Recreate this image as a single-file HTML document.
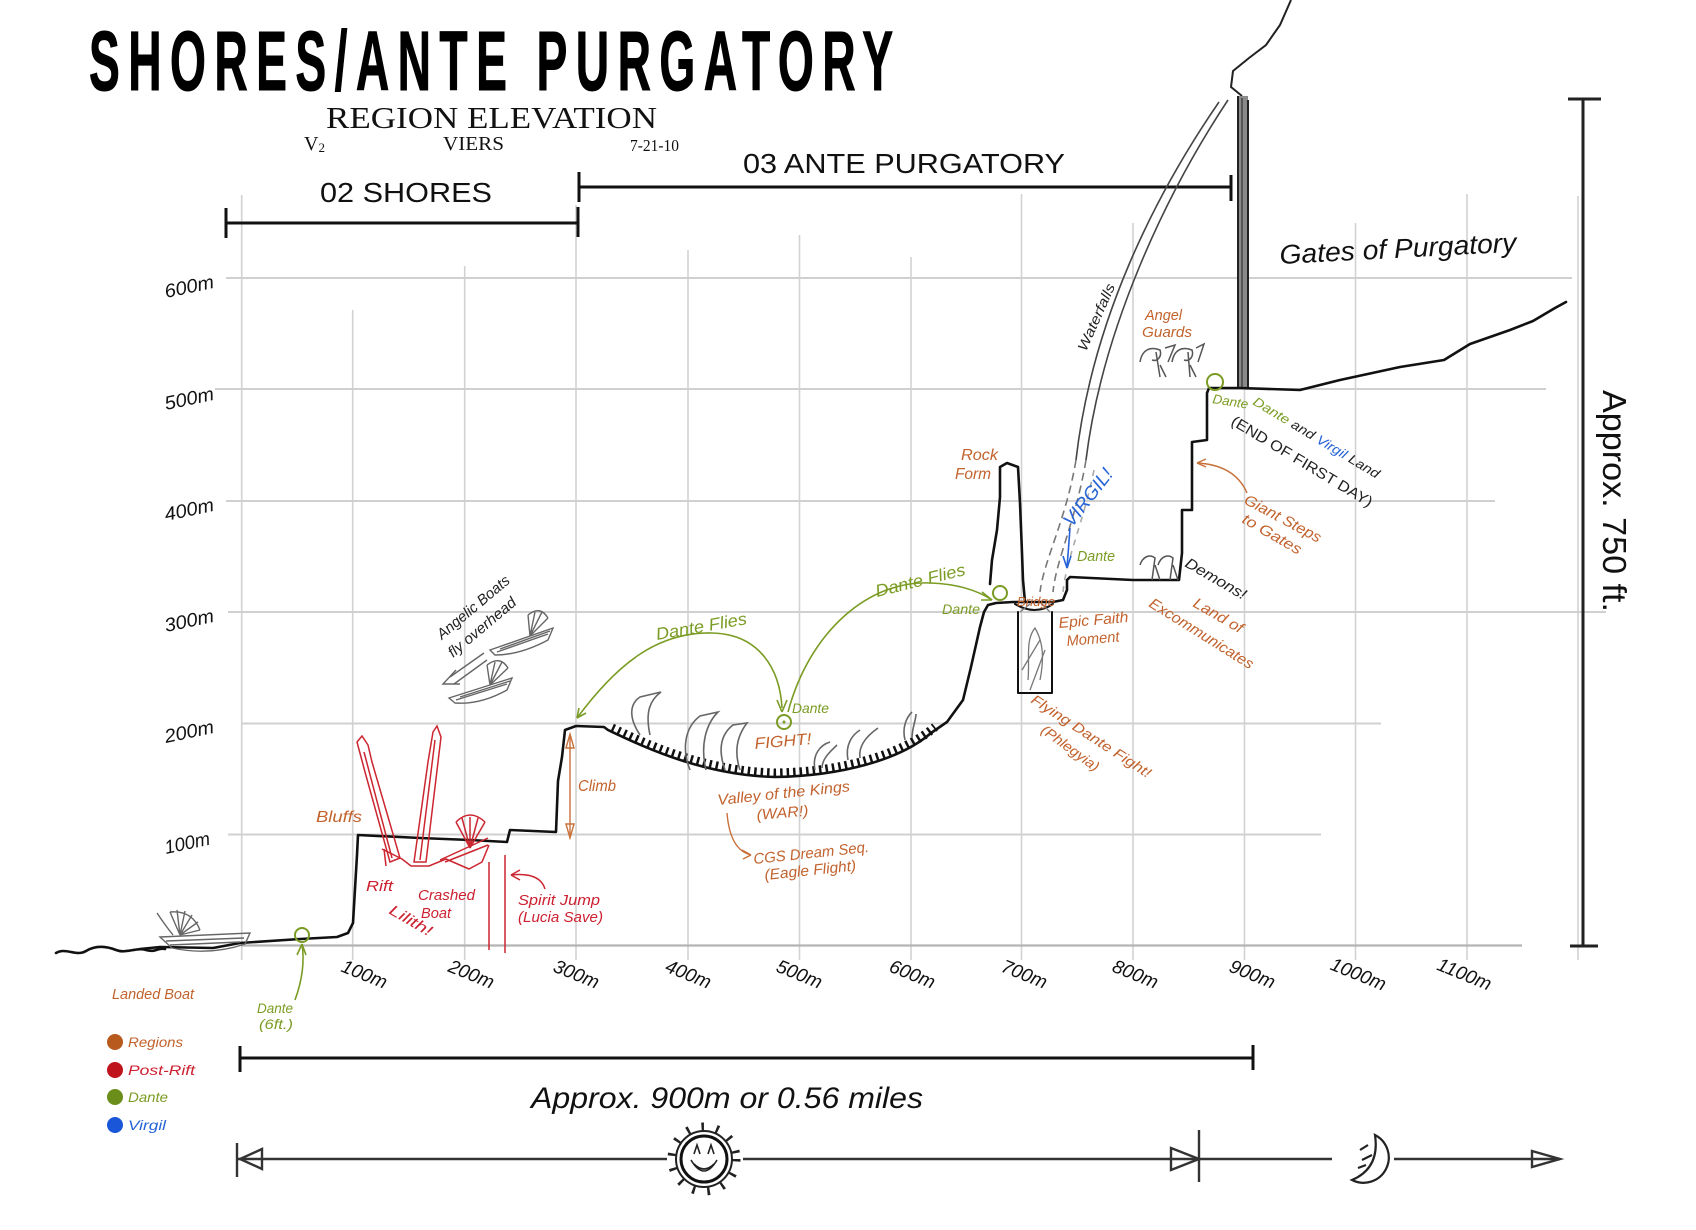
<!DOCTYPE html>
<html><head><meta charset="utf-8">
<style>
html,body{margin:0;padding:0;background:#fff;}
svg{display:block;}
.hw{font-family:"Liberation Sans","DejaVu Sans",sans-serif;font-style:italic;}
.up{font-style:normal;}
</style></head>
<body>
<svg width="1696" height="1230" viewBox="0 0 1696 1230" xmlns="http://www.w3.org/2000/svg">
<rect width="1696" height="1230" fill="#fff"/>

<!-- vertical grid -->
<g stroke="#d2d2d2" stroke-width="1.6" fill="none">
<line x1="241.7" y1="195" x2="241.7" y2="960"/>
<line x1="352.7" y1="310" x2="352.7" y2="960"/>
<line x1="464.7" y1="266" x2="464.7" y2="960"/>
<line x1="576" y1="205" x2="576" y2="960"/>
<line x1="688" y1="250" x2="688" y2="960"/>
<line x1="799.5" y1="235" x2="799.5" y2="960"/>
<line x1="911" y1="257" x2="911" y2="960"/>
<line x1="1021.5" y1="194" x2="1021.5" y2="960"/>
<line x1="1133" y1="223" x2="1133" y2="960"/>
<line x1="1244.5" y1="190" x2="1244.5" y2="960"/>
<line x1="1355.5" y1="223" x2="1355.5" y2="960"/>
<line x1="1467" y1="194" x2="1467" y2="960"/>
<line x1="1578" y1="196" x2="1578" y2="960"/>
</g>
<!-- horizontal grid -->
<g stroke="#d0d0d0" stroke-width="2" fill="none">
<line x1="226" y1="278" x2="1572" y2="278"/>
<line x1="215" y1="389" x2="1546" y2="389"/>
<line x1="226" y1="501" x2="1495" y2="501"/>
<line x1="228" y1="612" x2="1606" y2="612"/>
<line x1="241" y1="723.5" x2="1381" y2="723.5"/>
<line x1="228" y1="834.5" x2="1321" y2="834.5"/>
</g>
<line x1="241" y1="945.5" x2="1522" y2="945.5" stroke="#b4b4b4" stroke-width="2.2"/>

<!-- Title -->
<text transform="translate(89,90) scale(0.55,1)" x="0" y="0" font-family="Liberation Sans, DejaVu Sans, sans-serif" font-weight="bold" font-size="84" textLength="1462" lengthAdjust="spacing" fill="#000" stroke="#000" stroke-width="1">SHORES/ANTE PURGATORY</text>
<text x="326" y="128" font-family="Liberation Serif, DejaVu Serif, serif" font-size="31" textLength="331" lengthAdjust="spacingAndGlyphs" fill="#111">REGION ELEVATION</text>
<text x="304" y="150" font-family="Liberation Serif, serif" font-size="20" fill="#111">V<tspan font-size="13" dy="2">2</tspan></text>
<text x="443" y="150" font-family="Liberation Serif, serif" font-size="20" textLength="61" lengthAdjust="spacingAndGlyphs" fill="#111">VIERS</text>
<text x="630" y="151" font-family="Liberation Serif, serif" font-size="17" textLength="49" lengthAdjust="spacingAndGlyphs" fill="#111">7-21-10</text>

<!-- region brackets -->
<g stroke="#111" stroke-width="3" fill="none">
<line x1="226" y1="223" x2="578" y2="223"/>
<line x1="226" y1="208" x2="226" y2="238"/>
<line x1="578" y1="207" x2="578" y2="237"/>
<line x1="579" y1="187" x2="1231" y2="187"/>
<line x1="579" y1="172" x2="579" y2="202"/>
<line x1="1231" y1="175" x2="1231" y2="201"/>
</g>
<text class="hw up" style="font-style:normal" x="320" y="202" font-size="28" textLength="172" lengthAdjust="spacingAndGlyphs" fill="#111">02 SHORES</text>
<text class="hw up" style="font-style:normal" x="743" y="173" font-size="28" textLength="322" lengthAdjust="spacingAndGlyphs" fill="#111">03 ANTE PURGATORY</text>

<!-- y labels -->
<g class="hw" font-size="19" fill="#111">
<text transform="translate(166,298) rotate(-12)" textLength="50" lengthAdjust="spacingAndGlyphs">600m</text>
<text transform="translate(166,410) rotate(-12)" textLength="50" lengthAdjust="spacingAndGlyphs">500m</text>
<text transform="translate(166,521) rotate(-12)" textLength="50" lengthAdjust="spacingAndGlyphs">400m</text>
<text transform="translate(166,632) rotate(-12)" textLength="50" lengthAdjust="spacingAndGlyphs">300m</text>
<text transform="translate(166,743) rotate(-12)" textLength="50" lengthAdjust="spacingAndGlyphs">200m</text>
<text transform="translate(166,854) rotate(-12)" textLength="46" lengthAdjust="spacingAndGlyphs">100m</text>
</g>
<!-- x labels -->
<g class="hw" font-size="19" fill="#111" text-anchor="middle">
<text transform="translate(362,980) rotate(22)">100m</text>
<text transform="translate(469,980) rotate(22)">200m</text>
<text transform="translate(574,980) rotate(22)">300m</text>
<text transform="translate(686,980) rotate(22)">400m</text>
<text transform="translate(797,980) rotate(22)">500m</text>
<text transform="translate(910,980) rotate(22)">600m</text>
<text transform="translate(1022,980) rotate(22)">700m</text>
<text transform="translate(1133,980) rotate(22)">800m</text>
<text transform="translate(1250,980) rotate(22)">900m</text>
<text transform="translate(1356,980) rotate(22)">1000m</text>
<text transform="translate(1462,980) rotate(22)">1100m</text>
</g>

<!-- right scale -->
<g stroke="#222" stroke-width="3">
<line x1="1583" y1="99" x2="1583" y2="946"/>
<line x1="1568" y1="99" x2="1601" y2="99"/>
<line x1="1570" y1="946" x2="1598" y2="946"/>
</g>
<text class="hw" style="font-style:normal" transform="translate(1603,390) rotate(90)" font-size="33" textLength="222" lengthAdjust="spacingAndGlyphs" fill="#111">Approx. 750 ft.</text>

<!-- cliff and gate pillar -->
<path d="M1242,96 L1231,87 L1233,71 L1249,58 L1266,45 L1280,25 L1291,0" stroke="#222" stroke-width="2" fill="none"/>
<rect x="1238" y="96" width="10" height="293" fill="#8a8a8a"/>
<g stroke="#222" stroke-width="2">
<line x1="1238" y1="96" x2="1238" y2="389"/>
<line x1="1242" y1="98" x2="1242" y2="389" stroke="#444" stroke-width="1.5"/>
<line x1="1248" y1="100" x2="1248" y2="389"/>
</g>
<text class="hw" transform="translate(1280,264) rotate(-3)" font-size="27" textLength="237" lengthAdjust="spacingAndGlyphs" fill="#111">Gates of Purgatory</text>

<!-- waterfalls -->
<g fill="none" stroke="#444" stroke-width="1.6">
<path d="M1219,102 C1155,195 1092,320 1076,460"/>
<path d="M1228,100 C1165,195 1102,330 1086,460"/>
<path d="M1076,460 C1066,520 1044,560 1040,592" stroke-dasharray="8 5" stroke="#777"/>
<path d="M1086,460 C1076,520 1056,560 1053,592" stroke-dasharray="8 5" stroke="#777"/>
<path d="M1094,470 C1084,520 1066,560 1063,592" stroke-dasharray="6 6" stroke="#aaa"/>
</g>
<text class="hw" transform="translate(1086,352) rotate(-66)" font-size="14" textLength="72" lengthAdjust="spacingAndGlyphs" fill="#222">Waterfalls</text>

<!-- main terrain -->
<g fill="none" stroke="#111" stroke-width="2.6" stroke-linejoin="round" stroke-linecap="round">
<path d="M56,953 C66,947 76,957 86,951 S106,946 116,950 S136,947 146,950 S158,947 165,949"/>
<path d="M140,949 L160,947 L213,948 L240,943 L300,939 L337,937 L348,933 L353,923 L355,889 L357,855 L358,835 L420,838 L470,840 L507,842 L510,830 L556,832 L558,781 L562,757 L565,730 L576,726 L604,727 L608,730 C640,745 700,775 775,777 C840,776 900,760 931,733 L947,722 L963,700 L971,667 L980,627 L984,612 L988,605 L996,603 L1013,602 L1053,602 L1063,600 L1067,590 L1067,580 L1070,577 L1133,580 L1179,580 L1182,553 L1182,510 L1192,510 L1192,442 L1207,440 L1207,393 L1209,388 L1240,388 L1300,390 L1340,380 L1400,367 L1444,360 L1470,344 L1510,330 L1533,321 L1555,308 L1566,302"/>
<path d="M990,584 L992,560 L997,530 L1000,497 L1000,467 L1007,463 L1018,467 L1020,503 L1022,553 L1023,580 L1025,602"/>
<path d="M1015,604 Q1035,616 1053,604" stroke-width="2"/>
<path d="M1018,612 L1018,693 L1052,693 L1052,612" stroke-width="2"/>
</g>
<!-- valley grass -->
<path d="M612,728 C640,741 700,771 775,773 C840,772 900,756 935,727" fill="none" stroke="#111" stroke-width="9" stroke-dasharray="2.5 4"/>

<!-- bridge & pit details -->
<g fill="none" stroke="#777" stroke-width="1.3">
<path d="M1028,680 C1030,660 1025,640 1035,628 C1042,640 1045,655 1040,680"/>
<path d="M1022,670 L1040,640 M1030,690 L1045,650 M1020,612 L1030,604 M1050,612 L1042,604"/>
</g>

<!-- valley creatures -->
<g fill="none" stroke="#666" stroke-width="1.6">
<path d="M640,735 C630,720 628,705 640,697 L661,692 C650,700 645,712 650,735"/>
<path d="M690,770 C682,750 684,728 700,716 L718,712 C706,724 700,745 706,770"/>
<path d="M725,770 C718,750 720,735 733,725 L747,723 C737,736 734,752 740,770"/>
<path d="M815,770 C812,755 820,745 830,742 M822,768 C822,758 832,750 837,745"/>
<path d="M848,760 C845,745 852,735 860,730 M860,758 C858,745 868,735 878,728"/>
<path d="M905,740 C902,728 906,718 912,712 M912,738 C912,728 916,720 916,714"/>
</g>

<!-- angel guards & demons -->
<g fill="none" stroke="#555" stroke-width="1.5">
<path d="M1140,362 C1142,350 1150,346 1160,350 C1162,356 1158,362 1152,360 M1156,352 L1160,377 M1160,365 L1166,377 M1165,348 L1175,345 L1168,362"/>
<path d="M1172,362 C1174,350 1182,346 1192,350 C1194,356 1190,362 1184,360 M1188,352 L1190,377 M1190,365 L1196,377 M1196,348 L1204,344 L1198,362"/>
<path d="M1140,565 C1143,556 1150,554 1155,558 L1152,580 M1155,565 L1160,580 M1158,565 C1161,556 1168,554 1173,558 L1170,580 M1173,565 L1178,580"/>
</g>

<!-- Dante circles -->
<g fill="none" stroke="#7b9c24" stroke-width="2">
<circle cx="302" cy="935" r="7"/>
<circle cx="784" cy="722" r="7"/>
<circle cx="1000" cy="593" r="7"/>
<circle cx="1215" cy="382" r="8"/>
</g>
<circle cx="784" cy="722" r="1.5" fill="#7b9c24"/>

<!-- Dante flight arcs -->
<g fill="none" stroke="#7b9c24" stroke-width="1.6">
<path d="M577,718 C620,660 660,632 712,633 C760,634 780,670 782,708"/>
<path d="M577,718 L579,708 M577,718 L586,713"/>
<path d="M782,712 L777,700 M782,712 L787,700"/>
<path d="M788,712 C810,630 870,580 930,583 C960,584 980,592 992,600"/>
<path d="M992,600 L982,592 M992,600 L981,600"/>
<path d="M295,1000 Q306,970 302,944"/>
<path d="M302,944 L297,955 M302,944 L306,955"/>
</g>

<!-- Virgil arrow -->
<g fill="none" stroke="#2563d6" stroke-width="1.6">
<path d="M1070,528 L1067,568"/>
<path d="M1067,568 L1063,556 M1067,568 L1071,556"/>
</g>

<!-- orange arrows -->
<g fill="none" stroke="#c8703a" stroke-width="1.4">
<line x1="570" y1="736" x2="570" y2="836"/>
<path d="M566,748 L570,734 L574,748 Z"/>
<path d="M566,824 L570,838 L574,824 Z"/>
<path d="M727,813 Q730,850 751,855"/>
<path d="M751,855 L742,850 M751,855 L743,859"/>
<path d="M1247,493 Q1235,465 1197,463"/>
<path d="M1197,463 L1206,459 M1197,463 L1206,467"/>
</g>

<!-- red rift -->
<g fill="none" stroke="#cc2630" stroke-width="1.5">
<path d="M357,742 L362,736 L368,745 L372,762 L400,858 L390,862 L365,772 Z"/>
<path d="M364,752 L392,858"/>
<path d="M433,732 L437,726 L441,737 L438,762 L426,862 L414,862 L428,762 Z"/>
<path d="M435,740 L420,860"/>
<path d="M382,849 L402,859 L411,866 L429,866 L446,859 L469,869 L482,862 L489,845"/>
<path d="M384,849 L386,866"/>
<line x1="489" y1="862" x2="489" y2="950"/>
<line x1="505" y1="855" x2="505" y2="953"/>
<path d="M470,848 L456,822 M470,848 L462,818 M470,848 L470,817 M470,848 L478,818 M470,848 L485,822 M456,822 Q470,808 485,822"/>
<path d="M440,860 L488,838 M445,862 L488,845"/>
<path d="M545,889 Q540,872 511,875"/>
<path d="M511,875 L520,870 M511,875 L520,880"/>
</g>

<!-- boats -->
<g fill="none" stroke="#666" stroke-width="1.4">
<path d="M160,937 L250,933 L245,944 Q210,956 172,948 Z"/>
<path d="M166,941 L244,938 M170,945 L240,942"/>
<path d="M157,913 Q165,925 173,935"/>
<path d="M180,935 L170,912 M180,935 L177,910 M180,935 L185,911 M180,935 L192,915 M180,935 L198,922 M180,935 L200,930 M170,912 Q192,910 200,930"/>
<path d="M490,650 L553,628 L548,640 Q520,655 495,655 Z"/>
<path d="M497,652 L548,634 M500,649 L550,631"/>
<path d="M530,636 L528,615 M530,636 L535,612 M530,636 L542,612 M530,636 L548,618 M528,615 Q540,605 548,618"/>
<path d="M449,698 L512,678 L507,690 Q480,705 455,703 Z"/>
<path d="M456,700 L507,684 M460,697 L510,681"/>
<path d="M490,685 L487,665 M490,685 L495,662 M490,685 L502,662 M490,685 L508,668 M487,665 Q500,655 508,668"/>
<path d="M484,653 L450,677 M487,660 L454,684 M456,670 L443,684 L460,684"/>
</g>

<!-- annotation text: orange -->
<g class="hw" fill="#c2622d" font-size="15">
<text x="316" y="822" font-size="16" textLength="46" lengthAdjust="spacingAndGlyphs">Bluffs</text>
<text x="578" y="791" font-size="16" textLength="38" lengthAdjust="spacingAndGlyphs">Climb</text>
<text transform="translate(755,749) rotate(-5)" font-size="16" textLength="57" lengthAdjust="spacingAndGlyphs">FIGHT!</text>
<text transform="translate(718,805) rotate(-6)" textLength="133" lengthAdjust="spacingAndGlyphs">Valley of the Kings</text>
<text transform="translate(757,820) rotate(-5)" textLength="52" lengthAdjust="spacingAndGlyphs">(WAR!)</text>
<text transform="translate(754,864) rotate(-6)" textLength="116" lengthAdjust="spacingAndGlyphs">CGS Dream Seq.</text>
<text transform="translate(765,880) rotate(-6)" textLength="92" lengthAdjust="spacingAndGlyphs">(Eagle Flight)</text>
<text x="961" y="460" font-size="16" textLength="37" lengthAdjust="spacingAndGlyphs">Rock</text>
<text x="955" y="479" font-size="16" textLength="36" lengthAdjust="spacingAndGlyphs">Form</text>
<text x="1017" y="606" font-size="13" textLength="38" lengthAdjust="spacingAndGlyphs">Bridge</text>
<text transform="translate(1059,628) rotate(-5)" textLength="70" lengthAdjust="spacingAndGlyphs">Epic Faith</text>
<text transform="translate(1067,646) rotate(-5)" textLength="53" lengthAdjust="spacingAndGlyphs">Moment</text>
<text transform="translate(1030,702) rotate(33)" font-size="14" textLength="140" lengthAdjust="spacingAndGlyphs">Flying Dante Fight!</text>
<text transform="translate(1040,732) rotate(36)" font-size="14" textLength="68" lengthAdjust="spacingAndGlyphs">(Phlegyia)</text>
<text transform="translate(1192,606) rotate(30)" textLength="55" lengthAdjust="spacingAndGlyphs">Land of</text>
<text transform="translate(1148,606) rotate(32)" textLength="120" lengthAdjust="spacingAndGlyphs">Excommunicates</text>
<text transform="translate(1243,503) rotate(28)" textLength="85" lengthAdjust="spacingAndGlyphs">Giant Steps</text>
<text transform="translate(1241,522) rotate(30)" textLength="66" lengthAdjust="spacingAndGlyphs">to Gates</text>
<text x="1145" y="320" textLength="37" lengthAdjust="spacingAndGlyphs">Angel</text>
<text x="1142" y="337" textLength="50" lengthAdjust="spacingAndGlyphs">Guards</text>
<text x="112" y="999" textLength="82" lengthAdjust="spacingAndGlyphs">Landed Boat</text>
<text x="128" y="1047" font-size="14" textLength="55" lengthAdjust="spacingAndGlyphs">Regions</text>
</g>

<!-- red text -->
<g class="hw" fill="#cc1f2f" font-size="15">
<text x="366" y="891" textLength="27" lengthAdjust="spacingAndGlyphs">Rift</text>
<text x="418" y="900" textLength="57" lengthAdjust="spacingAndGlyphs">Crashed</text>
<text x="421" y="918" textLength="30" lengthAdjust="spacingAndGlyphs">Boat</text>
<text transform="translate(388,913) rotate(30)" textLength="47" lengthAdjust="spacingAndGlyphs">Lilith!</text>
<text x="518" y="905" textLength="82" lengthAdjust="spacingAndGlyphs">Spirit Jump</text>
<text x="518" y="922" textLength="85" lengthAdjust="spacingAndGlyphs">(Lucia Save)</text>
<text x="128" y="1075" font-size="14" textLength="67" lengthAdjust="spacingAndGlyphs">Post-Rift</text>
</g>

<!-- green text -->
<g class="hw" fill="#7b9c24" font-size="14">
<text x="257" y="1013" textLength="36" lengthAdjust="spacingAndGlyphs">Dante</text>
<text x="259" y="1029" textLength="34" lengthAdjust="spacingAndGlyphs">(6ft.)</text>
<text transform="translate(657,640) rotate(-10)" font-size="17" textLength="92" lengthAdjust="spacingAndGlyphs">Dante Flies</text>
<text transform="translate(877,597) rotate(-14)" font-size="17" textLength="92" lengthAdjust="spacingAndGlyphs">Dante Flies</text>
<text x="792" y="713" textLength="37" lengthAdjust="spacingAndGlyphs">Dante</text>
<text x="942" y="614" textLength="38" lengthAdjust="spacingAndGlyphs">Dante</text>
<text x="1077" y="561" font-size="15" textLength="38" lengthAdjust="spacingAndGlyphs">Dante</text>
<text transform="translate(1212,403) rotate(9)" font-size="13" textLength="36" lengthAdjust="spacingAndGlyphs">Dante</text>
<text x="128" y="1102" textLength="40" lengthAdjust="spacingAndGlyphs">Dante</text>
</g>
<text class="hw" transform="translate(1252,404) rotate(31)" font-size="13" textLength="145" lengthAdjust="spacingAndGlyphs"><tspan fill="#7b9c24">Dante </tspan><tspan fill="#222">and </tspan><tspan fill="#2563d6">Virgil </tspan><tspan fill="#222">Land</tspan></text>

<!-- blue text -->
<g class="hw" fill="#2563d6">
<text transform="translate(1072,528) rotate(-52)" font-size="19" textLength="68" lengthAdjust="spacingAndGlyphs">VIRGIL!</text>
<text x="128" y="1130" font-size="14" textLength="38" lengthAdjust="spacingAndGlyphs">Virgil</text>
</g>

<!-- black text -->
<g class="hw" fill="#222" font-size="15">
<text transform="translate(442,640) rotate(-40)" textLength="90" lengthAdjust="spacingAndGlyphs">Angelic Boats</text>
<text transform="translate(453,658) rotate(-40)" textLength="84" lengthAdjust="spacingAndGlyphs">fly overhead</text>
<text transform="translate(1184,566) rotate(30)" textLength="68" lengthAdjust="spacingAndGlyphs">Demons!</text>
<text transform="translate(1230,424) rotate(31)" style="font-style:normal" font-size="15" textLength="162" lengthAdjust="spacingAndGlyphs">(END OF FIRST DAY)</text>
</g>

<!-- legend dots -->
<circle cx="115" cy="1042" r="8" fill="#b85a1e"/>
<circle cx="115" cy="1070" r="8" fill="#c0141c"/>
<circle cx="115" cy="1097" r="8" fill="#6b8e1a"/>
<circle cx="115" cy="1125" r="8" fill="#1a56d8"/>

<!-- bottom bracket -->
<g stroke="#111" stroke-width="3">
<line x1="240" y1="1058" x2="1253" y2="1058"/>
<line x1="240" y1="1046" x2="240" y2="1072"/>
<line x1="1253" y1="1045" x2="1253" y2="1070"/>
</g>
<text class="hw" x="531" y="1108" font-size="30" textLength="392" lengthAdjust="spacingAndGlyphs" fill="#111">Approx. 900m or 0.56 miles</text>

<!-- time arrows -->
<g stroke="#333" stroke-width="2.4" fill="none">
<line x1="237" y1="1159" x2="667" y2="1159"/>
<line x1="743" y1="1159" x2="1199" y2="1159"/>
<line x1="1199" y1="1159" x2="1332" y2="1159"/>
<line x1="1394" y1="1159" x2="1560" y2="1159"/>
<line x1="237" y1="1143" x2="237" y2="1177"/>
<path d="M262,1149 L240,1159 L262,1169 Z"/>
<line x1="1199" y1="1130" x2="1199" y2="1182"/>
<path d="M1171,1148 L1199,1159 L1171,1170 Z"/>
<path d="M1532,1151 L1560,1159 L1532,1167 Z"/>
</g>
<!-- sun -->
<circle cx="704" cy="1159" r="32" fill="none" stroke="#222" stroke-width="9" stroke-dasharray="2.5 12.3"/>
<circle cx="704" cy="1159" r="28" fill="#fff" stroke="#222" stroke-width="2"/>
<circle cx="704" cy="1159" r="23" fill="#fff" stroke="#111" stroke-width="3"/>
<g fill="none" stroke="#222" stroke-width="1.6">
<path d="M694,1154 L697,1145 L700,1154 M708,1154 L711,1145 L714,1154"/>
<path d="M691,1160 Q704,1182 717,1160"/>
<path d="M694,1164 Q704,1174 714,1164"/>
</g>
<!-- moon -->
<g fill="none" stroke="#222" stroke-width="2.2">
<path d="M1375,1135 A24,24 0 0,1 1352,1180 Q1380,1168 1375,1135 Z"/>
<path d="M1360,1150 L1368,1145 M1362,1160 L1372,1155 M1358,1168 L1366,1165"/>
</g>
</svg>
</body></html>
